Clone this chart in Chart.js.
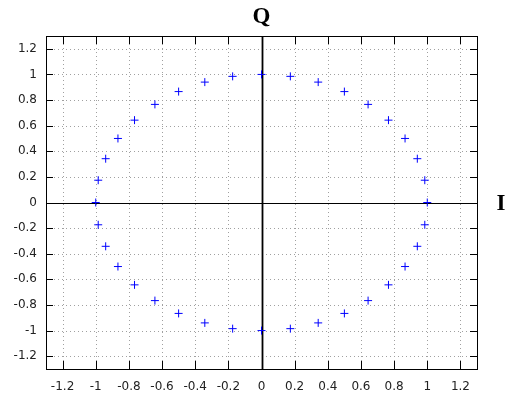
<!DOCTYPE html>
<html><head><meta charset="utf-8">
<script src="https://cdn.jsdelivr.net/npm/chart.js@4"></script>
<style>html,body{margin:0;padding:0;background:#fff}#wrap{width:518px;height:407px}</style>
</head><body><div id="wrap"><canvas id="c" width="518" height="407"></canvas></div>
<script>
const iValues = [1, 0.985, 0.940, 0.866, 0.766, 0.643, 0.5, 0.342, 0.174, 0, -0.174, -0.342, -0.5, -0.643, -0.766, -0.866, -0.940, -0.985, -1, -0.985, -0.940, -0.866, -0.766, -0.643, -0.5, -0.342, -0.174, 0, 0.174, 0.342, 0.5, 0.643, 0.766, 0.866, 0.940, 0.985];
const qValues = [0, 0.174, 0.342, 0.5, 0.643, 0.766, 0.866, 0.940, 0.985, 1, 0.985, 0.940, 0.866, 0.766, 0.643, 0.5, 0.342, 0.174, 0, -0.174, -0.342, -0.5, -0.643, -0.766, -0.866, -0.940, -0.985, -1, -0.985, -0.940, -0.866, -0.766, -0.643, -0.5, -0.342, -0.174];
const tickValues = [-1.2, -1, -0.8, -0.6, -0.4, -0.2, 0, 0.2, 0.4, 0.6, 0.8, 1, 1.2];
const xLabel = 'I', yLabel = 'Q';

const points = iValues.map((v, k) => ({x: v, y: qValues[k]}));

const deco = {
  id: 'deco',
  beforeDatasetsDraw(chart) {
    const {ctx, chartArea: a, scales: {x, y}} = chart;
    ctx.save();
    // dotted grid
    ctx.strokeStyle = '#a0a0a0';
    ctx.lineWidth = 1;
    ctx.setLineDash([1, 3]);
    tickValues.forEach(t => {
      const px = Math.round(x.getPixelForValue(t)) + 0.5;
      ctx.beginPath(); ctx.moveTo(px, a.top); ctx.lineTo(px, a.bottom); ctx.stroke();
      const py = Math.round(y.getPixelForValue(t)) + 0.5;
      ctx.beginPath(); ctx.moveTo(a.left, py); ctx.lineTo(a.right, py); ctx.stroke();
    });
    ctx.setLineDash([]);
    // zero axes
    ctx.strokeStyle = '#000';
    const x0 = Math.round(x.getPixelForValue(0)) + 0.5;
    const y0 = Math.round(y.getPixelForValue(0)) + 0.5;
    ctx.lineWidth = 1;
    ctx.beginPath(); ctx.moveTo(a.left, y0); ctx.lineTo(a.right, y0); ctx.stroke();
    ctx.lineWidth = 1.8;
    ctx.beginPath(); ctx.moveTo(x0, a.top); ctx.lineTo(x0, a.bottom); ctx.stroke();
    // border
    ctx.lineWidth = 1;
    ctx.strokeRect(Math.round(a.left) + 0.5, Math.round(a.top) + 0.5, Math.round(a.right - a.left), Math.round(a.bottom - a.top));
    // inward tick marks
    const L = 7;
    tickValues.forEach(t => {
      const px = Math.round(x.getPixelForValue(t)) + 0.5;
      ctx.beginPath();
      ctx.moveTo(px, a.bottom); ctx.lineTo(px, a.bottom - L - 1);
      ctx.moveTo(px, a.top); ctx.lineTo(px, a.top + L + 1);
      ctx.stroke();
      const py = Math.round(y.getPixelForValue(t)) + 0.5;
      ctx.beginPath();
      ctx.moveTo(a.left, py); ctx.lineTo(a.left + L, py);
      ctx.moveTo(a.right, py); ctx.lineTo(a.right - L, py);
      ctx.stroke();
    });
    // axis names
    ctx.fillStyle = '#000';
    ctx.font = 'bold 23px "Liberation Serif", "DejaVu Serif", serif';
    ctx.textAlign = 'center';
    ctx.textBaseline = 'middle';
    ctx.fillText(yLabel, x.getPixelForValue(0), 17);
    ctx.fillText(xLabel, 501, y.getPixelForValue(0) + 2);
    ctx.restore();
  }
};

new Chart(document.getElementById('c'), {
  type: 'scatter',
  data: {datasets: [{data: points, pointStyle: 'cross', radius: 4, hoverRadius: 4,
    borderColor: '#0000ff', backgroundColor: '#0000ff', borderWidth: 1}]},
  options: {
    responsive: false, animation: false,
    layout: {padding: {top: 36, right: 41, left: 0, bottom: 0}},
    plugins: {legend: {display: false}, tooltip: {enabled: false}},
    scales: {
      x: {type: 'linear', min: -1.3, max: 1.3,
        afterBuildTicks: s => { s.ticks = tickValues.map(v => ({value: v})); },
        afterFit: s => { s.height = 38; },
        grid: {display: false, drawTicks: false}, border: {display: false},
        ticks: {padding: 11, color: '#222', font: {family: '"DejaVu Sans", sans-serif', size: 12},
          callback: v => String(Math.round(v * 10) / 10), maxRotation: 0, autoSkip: false}},
      y: {type: 'linear', min: -1.3, max: 1.3,
        afterBuildTicks: s => { s.ticks = tickValues.map(v => ({value: v})); },
        afterFit: s => { s.width = 46; },
        grid: {display: false, drawTicks: false}, border: {display: false},
        ticks: {padding: 9, color: '#222', font: {family: '"DejaVu Sans", sans-serif', size: 12},
          callback: v => String(Math.round(v * 10) / 10), autoSkip: false}}
    }
  },
  plugins: [deco]
});
</script></body></html>
